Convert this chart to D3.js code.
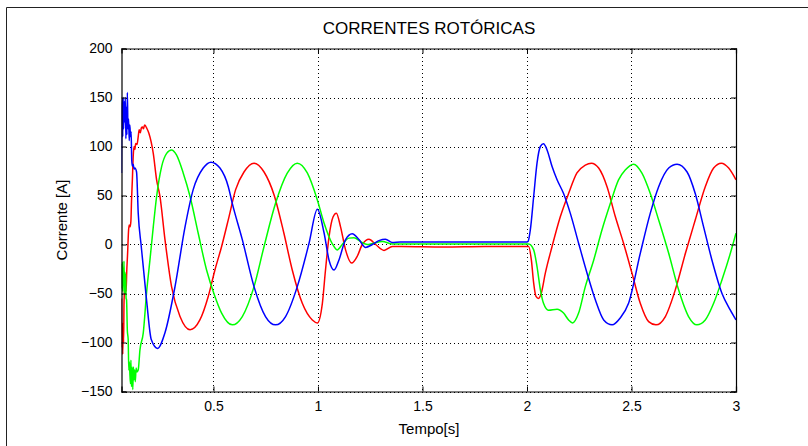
<!DOCTYPE html>
<html>
<head>
<meta charset="utf-8">
<script src="https://cdn.jsdelivr.net/npm/d3@7"></script>
<style>
  html, body { margin: 0; padding: 0; background: #fff; }
  svg { display: block; font-family: "Liberation Sans", Arial, Helvetica, sans-serif; }
</style>
</head>
<body>
<svg id="chart" width="808" height="446"></svg>
<script>
// Limits and tick labels of the axes
const tempoLim = [0.06, 3];
const correnteLim = [-150, 200];
const tempoTicks = [0.5, 1, 1.5, 2, 2.5, 3];
const correnteTicks = [-150, -100, -50, 0, 50, 100, 150, 200];

// Rotor phase currents, [time s, current A]
const faseA = [ // red
  [0.060, -55], [0.062, -105], [0.064, -80], [0.066, -112], [0.068, -85], [0.070, -100],
  [0.072, -60], [0.074, -48], [0.076, -30], [0.078, -50], [0.080, -32], [0.082, -48],
  [0.085, -28], [0.089, -10], [0.094, 15], [0.097, 20], [0.101, 18], [0.105, 24],
  [0.108, 45], [0.112, 66], [0.116, 90], [0.120, 100], [0.124, 97], [0.128, 103],
  [0.134, 102], [0.140, 110], [0.1445, 117], [0.150, 114], [0.155, 119], [0.160, 120],
  [0.165, 118], [0.1705, 122], [0.175, 121], [0.180, 119], [0.191, 113.6], [0.212, 93],
  [0.228, 66], [0.244, 49], [0.268, 5], [0.2995, -43], [0.340, -73.5], [0.388, -87],
  [0.435, -77], [0.475, -53], [0.507, -26], [0.539, -2], [0.574, 28], [0.606, 56],
  [0.646, 74], [0.694, 83], [0.742, 74], [0.790, 50.6], [0.837, 11.5], [0.877, -26],
  [0.925, -60], [0.973, -77], [0.997, -80], [1.021, -60], [1.036, -26], [1.053, 8],
  [1.072, 28], [1.088, 32], [1.108, 18], [1.132, -5.5], [1.161, -19], [1.188, -12],
  [1.212, 0], [1.244, 5.4], [1.276, 0], [1.316, -6], [1.356, -2], [1.40, -2],
  [1.60, -2.5], [1.80, -2], [2.000, -2], [2.008, -2], [2.021, -16], [2.032, -39.5],
  [2.043, -53], [2.0555, -55], [2.068, -50], [2.088, -29], [2.120, -2], [2.159, 28],
  [2.199, 52], [2.239, 73], [2.279, 81], [2.308, 83], [2.343, 78], [2.383, 59],
  [2.4225, 28.5], [2.462, 1.3], [2.502, -29], [2.542, -60], [2.582, -78.7], [2.617, -82],
  [2.662, -73.5], [2.710, -46], [2.758, -9], [2.805, 25], [2.853, 59], [2.893, 78],
  [2.930, 83], [2.965, 78], [3.000, 66]
];

const faseB = [ // green
  [0.060, -20], [0.062, -45], [0.064, -18], [0.066, -48], [0.068, -25], [0.070, -40],
  [0.072, -17], [0.074, -50], [0.076, -28], [0.078, -45], [0.080, -30], [0.082, -55],
  [0.084, -56], [0.088, -88], [0.092, -97], [0.095, -128], [0.098, -120], [0.100, -131],
  [0.103, -142], [0.105, -118], [0.108, -145], [0.111, -125], [0.114, -148], [0.117, -125],
  [0.120, -138], [0.123, -128], [0.126, -140], [0.130, -126], [0.134, -130], [0.140, -128],
  [0.1483, -107.5], [0.164, -90.5], [0.180, -49], [0.196, -16], [0.212, 18], [0.228, 49],
  [0.252, 79.5], [0.276, 93], [0.2995, 96.5], [0.323, 91.4], [0.3555, 72.8], [0.388, 49],
  [0.427, 11.5], [0.467, -26], [0.507, -53], [0.539, -70], [0.590, -82], [0.638, -73.5],
  [0.694, -43], [0.742, -2], [0.797, 42], [0.853, 72.8], [0.901, 83], [0.949, 73],
  [0.997, 45.5], [1.029, 22], [1.068, 1], [1.092, -5.5], [1.116, 0], [1.148, 6.5],
  [1.172, 7], [1.204, 3], [1.236, 0], [1.260, 1], [1.308, 3], [1.356, 0.5],
  [1.60, 0.5], [2.000, 0.5], [2.008, 0.5], [2.032, -5.5], [2.048, -22.5], [2.064, -46],
  [2.079, -60], [2.103, -67], [2.144, -66], [2.175, -70], [2.199, -77], [2.218, -80],
  [2.247, -70], [2.279, -43], [2.319, -16], [2.359, 15], [2.399, 42], [2.438, 66],
  [2.470, 76], [2.510, 82], [2.550, 72.8], [2.590, 52], [2.630, 25], [2.678, -9],
  [2.725, -46], [2.773, -73.5], [2.813, -82], [2.853, -77], [2.893, -60], [2.933, -36],
  [2.973, -9], [3.000, 11.5]
];

const faseC = [ // blue
  [0.060, 73], [0.0615, 140], [0.064, 148], [0.066, 110], [0.068, 150], [0.070, 118],
  [0.073, 146], [0.076, 125], [0.078, 150], [0.081, 108], [0.083, 140], [0.086, 112],
  [0.088, 155], [0.091, 118], [0.094, 128], [0.097, 106], [0.100, 122], [0.103, 110],
  [0.106, 115], [0.109, 86], [0.112, 80], [0.116, 82], [0.120, 77], [0.124, 78],
  [0.132, 74], [0.140, 32], [0.1545, -2], [0.180, -57], [0.2024, -97], [0.2325, -106],
  [0.268, -90], [0.316, -43], [0.364, 18], [0.403, 56], [0.451, 78], [0.488, 84],
  [0.531, 78], [0.571, 59], [0.590, 42], [0.638, 5], [0.694, -43], [0.749, -73.5],
  [0.797, -82], [0.845, -73.5], [0.901, -43], [0.957, 1], [0.997, 36], [1.029, 12],
  [1.053, -16], [1.077, -26], [1.100, -16], [1.132, 5], [1.164, 11], [1.196, 5],
  [1.228, -3], [1.260, 0], [1.292, 4], [1.323, 5.4], [1.356, 2], [1.394, 2.5],
  [1.70, 2.5], [2.000, 2.5], [2.005, 3], [2.016, 15], [2.032, 49], [2.048, 83],
  [2.064, 100], [2.079, 102.7], [2.096, 96.5], [2.120, 79.5], [2.144, 66], [2.175, 52],
  [2.207, 32], [2.247, 1.3], [2.287, -29], [2.327, -56.5], [2.367, -77], [2.407, -82],
  [2.446, -75], [2.486, -60], [2.542, -9], [2.590, 32], [2.630, 59], [2.678, 78],
  [2.718, 82], [2.766, 74], [2.805, 52], [2.845, 18], [2.885, -16], [2.933, -50],
  [2.973, -67], [3.000, -77]
];

const series = [
  { data: faseA, color: "#ff0000" },
  { data: faseB, color: "#00ff00" },
  { data: faseC, color: "#0000ff" }
];

const svg = d3.select("#chart");
const W = 808, H = 446;
const plot = { left: 121.5, right: 736, top: 48.5, bottom: 391.5 };

// Figure frame
svg.append("rect").attr("x", 0).attr("y", 0).attr("width", W).attr("height", H).attr("fill", "#fff");
svg.append("path")
  .attr("d", `M6.5,${H} V7.5 H${W}`)
  .attr("fill", "none").attr("stroke", "#222").attr("stroke-width", 1);

const x = d3.scaleLinear().domain(tempoLim).range([plot.left, plot.right]);
const y = d3.scaleLinear().domain(correnteLim).range([plot.bottom, plot.top]);

// Dotted grid
const grid = svg.append("g").attr("stroke", "#000").attr("stroke-width", 1)
  .attr("stroke-dasharray", "1,3").attr("shape-rendering", "crispEdges");
grid.selectAll("line.gx").data(tempoTicks).join("line")
  .attr("x1", d => Math.round(x(d)) + 0.5).attr("x2", d => Math.round(x(d)) + 0.5)
  .attr("y1", plot.top).attr("y2", plot.bottom);
grid.selectAll("line.gy").data(correnteTicks).join("line")
  .attr("x1", plot.left).attr("x2", plot.right)
  .attr("y1", d => Math.round(y(d)) + 0.5).attr("y2", d => Math.round(y(d)) + 0.5);

// Curves
svg.append("clipPath").attr("id", "clip").append("rect")
  .attr("x", plot.left).attr("y", plot.top)
  .attr("width", plot.right - plot.left).attr("height", plot.bottom - plot.top);

const line = d3.line().x(d => x(d[0])).y(d => y(d[1])).curve(d3.curveMonotoneX);
svg.append("g").attr("clip-path", "url(#clip)")
  .selectAll("path").data(series).join("path")
  .attr("d", d => line(d.data))
  .attr("fill", "none").attr("stroke", d => d.color)
  .attr("stroke-width", 1.5).attr("stroke-linejoin", "round");

// Axes with inward ticks on all four sides
const tickFont = "14px";
const gx = svg.append("g").attr("transform", `translate(0,${plot.bottom})`)
  .call(d3.axisBottom(x).tickValues(tempoTicks).tickSize(-5).tickPadding(10).tickFormat(d3.format("")));
const gxTop = svg.append("g").attr("transform", `translate(0,${plot.top})`)
  .call(d3.axisTop(x).tickValues(tempoTicks).tickSize(-5).tickFormat(""));
const gy = svg.append("g").attr("transform", `translate(${plot.left},0)`)
  .call(d3.axisLeft(y).tickValues(correnteTicks).tickSize(-5).tickPadding(9).tickFormat(d3.format("")));
const gyRight = svg.append("g").attr("transform", `translate(${plot.right},0)`)
  .call(d3.axisRight(y).tickValues(correnteTicks).tickSize(-5).tickFormat(""));

[gx, gxTop, gy, gyRight].forEach(g => {
  g.select(".domain").attr("stroke", "#000").attr("stroke-width", 1.2);
  g.selectAll(".tick line").attr("stroke", "#000");
  g.selectAll("text").attr("fill", "#000").style("font-size", tickFont)
    .style("font-family", "'Liberation Sans', Arial, sans-serif");
});

// Title and axis labels
svg.append("text").attr("x", 429).attr("y", 34).attr("text-anchor", "middle")
  .style("font-size", "17px").text("CORRENTES ROTÓRICAS");
svg.append("text").attr("x", 429).attr("y", 434).attr("text-anchor", "middle")
  .style("font-size", "15px").text("Tempo[s]");
svg.append("text").attr("transform", "translate(67,220) rotate(-90)").attr("text-anchor", "middle")
  .style("font-size", "15px").text("Corrente [A]");
</script>
</body>
</html>
